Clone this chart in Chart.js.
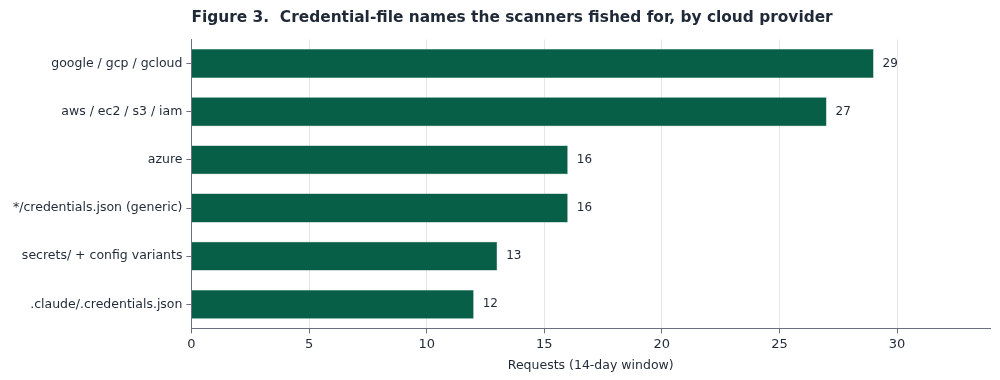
<!DOCTYPE html>
<html>
<head>
<meta charset="utf-8">
<script src="https://cdn.jsdelivr.net/npm/chart.js@4"></script>
<style>
  html, body { margin: 0; padding: 0; background: #fff; }
  #wrap { width: 1000px; height: 380px; }
</style>
</head>
<body>
<div id="wrap"><canvas id="grafico"></canvas></div>
<script>
// data
const categorias = [
  'google / gcp / gcloud',
  'aws / ec2 / s3 / iam',
  'azure',
  '*/credentials.json (generic)',
  'secrets/ + config variants',
  '.claude/.credentials.json'
];
const pedidos = [29, 27, 16, 16, 13, 12];
const ticksX = [0, 5, 10, 15, 20, 25, 30];

const verde = '#065f46';
const texto = '#1f2937';
const eixo = '#6b6f80';

// labels at the end of each bar
const rotulos = {
  id: 'rotulos',
  afterDatasetsDraw(chart) {
    const ctx = chart.ctx;
    const meta = chart.getDatasetMeta(0);
    ctx.save();
    ctx.font = '12px "DejaVu Sans"';
    ctx.fillStyle = texto;
    ctx.textBaseline = 'middle';
    meta.data.forEach((bar, i) => {
      ctx.fillText(String(pedidos[i]), bar.x + 9, bar.y);
    });
    ctx.restore();
  }
};

new Chart(document.getElementById('grafico'), {
  type: 'bar',
  data: {
    labels: categorias,
    datasets: [{
      data: pedidos,
      backgroundColor: verde,
      borderColor: '#2f7a62',
      borderWidth: 0.5,
      categoryPercentage: 1,
      barPercentage: 0.6
    }]
  },
  plugins: [rotulos],
  options: {
    indexAxis: 'y',
    responsive: true,
    maintainAspectRatio: false,
    animation: false,
    layout: { padding: { top: 5, right: 10, left: 9, bottom: 7 } },
    plugins: {
      legend: { display: false },
      tooltip: { enabled: false },
      title: {
        display: true,
        text: 'Figure 3.  Credential-file names the scanners fished for, by cloud provider',
        align: 'start',
        fullSize: false,
        color: texto,
        font: { family: 'DejaVu Sans', size: 15.4, weight: 'bold' },
        padding: { top: 4, bottom: 12 }
      }
    },
    scales: {
      x: {
        min: 0,
        max: 33.95,
        afterBuildTicks(axis) {
          axis.ticks = ticksX.map(v => ({ value: v }));
        },
        grid: {
          color: '#e6e6ea',
          drawTicks: true,
          tickLength: 5,
          tickColor: eixo
        },
        border: { display: true, color: eixo, width: 1 },
        ticks: {
          color: texto,
          font: { family: 'DejaVu Sans', size: 13 },
          padding: 3
        },
        title: {
          display: true,
          text: 'Requests (14-day window)',
          color: texto,
          font: { family: 'DejaVu Sans', size: 12.5 },
          padding: { top: 3, bottom: 0 }
        }
      },
      y: {
        grid: {
          offset: false,
          drawOnChartArea: false,
          drawTicks: true,
          tickLength: 5,
          tickColor: eixo
        },
        border: { display: true, color: eixo, width: 1 },
        ticks: {
          color: texto,
          font: { family: 'DejaVu Sans', size: 12.5 },
          padding: 4
        }
      }
    }
  }
});
</script>
</body>
</html>
